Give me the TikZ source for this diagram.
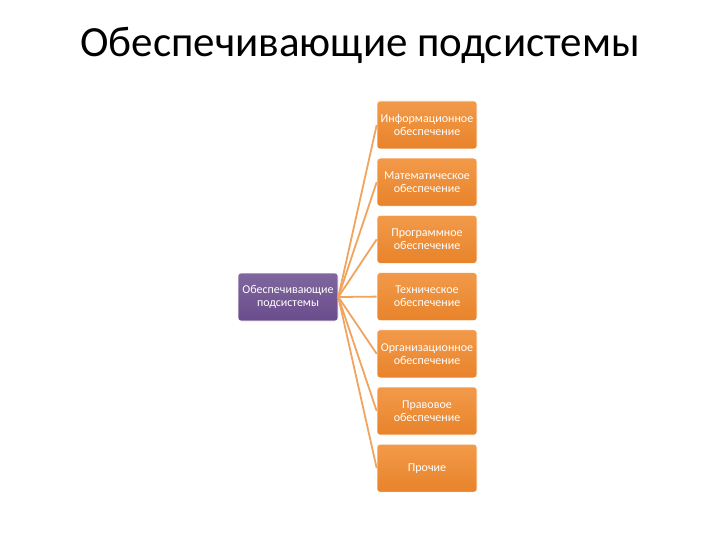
\documentclass[tikz,border=0pt]{standalone}
\usepackage{fontspec}
\setmainfont{Carlito}
\definecolor{org}{HTML}{E8832A}
\definecolor{orgl}{HTML}{F29A4A}
\definecolor{pur}{HTML}{6A4C8C}
\definecolor{lin}{HTML}{F0A45E}
\begin{document}
\begin{tikzpicture}[x=1pt,y=-1pt,
  obox/.style={draw=white,line width=0.6pt,rounded corners=3pt,top color=orgl,bottom color=org,minimum width=100pt,minimum height=48pt,text=white,font=\fontsize{12}{13}\selectfont,align=center,inner sep=0pt},
  pbox/.style={obox,top color=pur!85!white,bottom color=pur},
  conn/.style={draw=lin,line width=1.8pt}]
\useasboundingbox (0,0) rectangle (720,540);
\node[font=\fontsize{43}{46}\selectfont] (title) at (360,45) {Обеспечивающие подсистемы};
\node[pbox] (root) at (288,297) {Обеспечивающие\\подсистемы};
\foreach \n/\t [count=\i from 0] in {a/{Информационное\\обеспечение},b/{Математическое\\обеспечение},c/{Программное\\обеспечение},d/{Техническое\\обеспечение},e/{Организационное\\обеспечение},f/{Правовое\\обеспечение},g/{Прочие}}{
  \node[obox] (\n) at (427,{125+57.2*\i}) {\t};
  \draw[conn] (root.east) -- (\n.west);
}
\end{tikzpicture}
\end{document}
